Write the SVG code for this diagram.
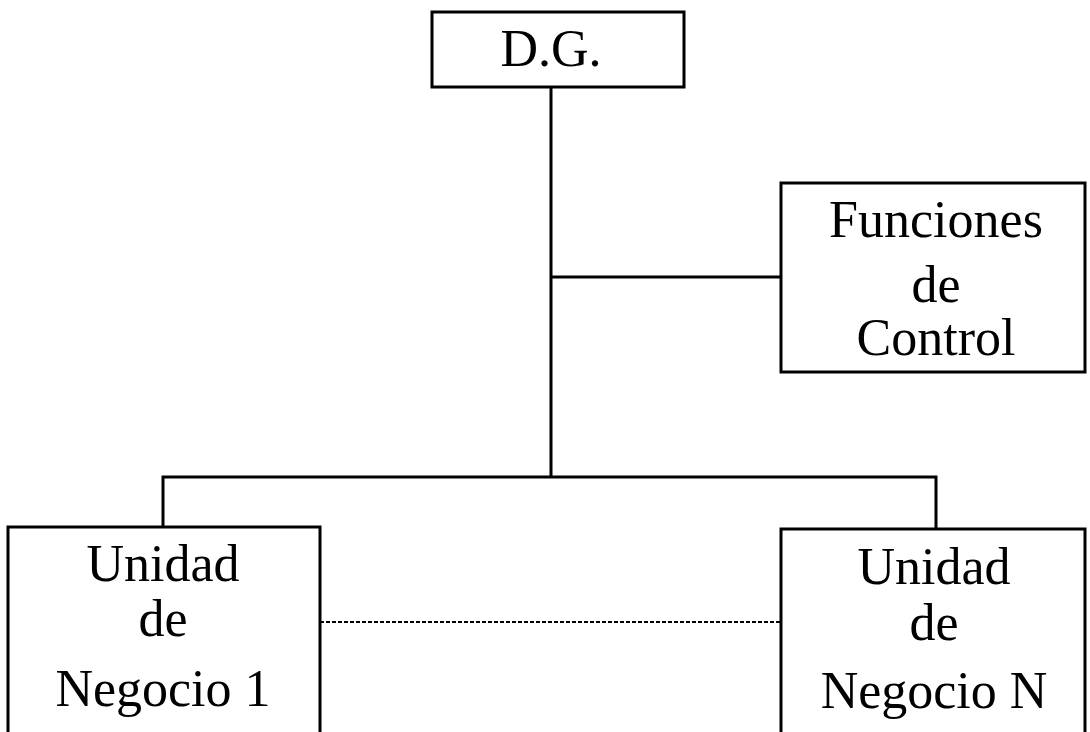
<svg xmlns="http://www.w3.org/2000/svg" width="1090" height="732" viewBox="0 0 1090 732">
  <style>
    .box { fill: #ffffff; stroke: #000000; stroke-width: 3; }
    .link { fill: none; stroke: #000000; stroke-width: 3; }
    .dotted { fill: none; stroke: #000000; stroke-width: 2; stroke-dasharray: 4 2; }
    .label { font-family: "Liberation Serif", "Times New Roman", serif; font-size: 52px; fill: #000000; text-anchor: middle; }
  </style>
  <rect width="1090" height="732" fill="#ffffff"/>

  <!-- connectors -->
  <g id="connectors">
    <line class="link" x1="551" y1="87" x2="551" y2="477"/>
    <line class="link" x1="551" y1="277" x2="781" y2="277"/>
    <polyline class="link" points="163,527 163,477 936,477 936,529"/>
    <line class="dotted" x1="320" y1="622" x2="781" y2="622"/>
  </g>

  <g id="node-dg">
    <rect class="box" x="432" y="12" width="252" height="75"/>
    <text class="label" x="551" y="66">D.G.</text>
  </g>

  <g id="node-control">
    <rect class="box" x="781" y="183" width="304" height="189"/>
    <text class="label" x="936" y="237">Funciones</text>
    <text class="label" x="936" y="302">de</text>
    <text class="label" x="936" y="355">Control</text>
  </g>

  <g id="node-unidad-1">
    <rect class="box" x="8" y="527" width="312" height="215"/>
    <text class="label" x="163" y="581">Unidad</text>
    <text class="label" x="163" y="636">de</text>
    <text class="label" x="163" y="706">Negocio 1</text>
  </g>

  <g id="node-unidad-n">
    <rect class="box" x="781" y="529" width="304" height="215"/>
    <text class="label" x="934" y="584">Unidad</text>
    <text class="label" x="934" y="640">de</text>
    <text class="label" x="934" y="708">Negocio N</text>
  </g>
</svg>
